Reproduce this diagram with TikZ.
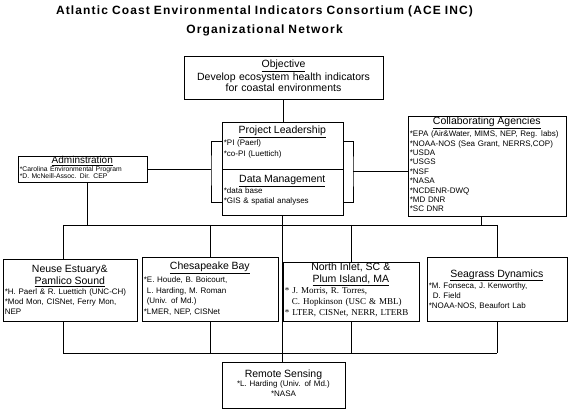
\documentclass[tikz,border=0pt]{standalone}
\usepackage{fontspec}
\setmainfont{Liberation Sans}
\newfontfamily\detserif{Liberation Serif}
\usetikzlibrary{positioning,calc}
\newcommand{\headsz}{\fontsize{10.5}{12}\selectfont}
\newcommand{\detsz}{\fontsize{8}{10.5}\selectfont}
\newcommand{\hd}[1]{\makebox[\linewidth]{\normalfont\headsz\underline{#1}}}
\newcommand{\hdplain}[1]{\makebox[\linewidth]{\normalfont\headsz #1}}

\begin{document}
\begin{tikzpicture}[x=1pt,y=-1pt,
orgbox/.style={draw,line width=.8pt,inner sep=0pt},
boxtext/.style={inner sep=0pt,anchor=base west,align=left,font=\detsz},
link/.style={line width=.8pt}]
\useasboundingbox (0,0) rectangle (569,411);
\node[inner sep=0pt,anchor=base,text width=500pt,align=center,font=\fontsize{12}{19}\selectfont\bfseries\addfontfeature{LetterSpace=9.5}] (title) at (264.5,14.5) {Atlantic Coast Environmental Indicators Consortium (ACE INC)\\Organizational Network};

\node[orgbox,minimum width=199pt,minimum height=43pt] (objective) at (283.5,77.5) {};
\node[orgbox,minimum width=121pt,minimum height=47pt] (lead) at (282.5,145.5) {};
\node[orgbox,minimum width=121pt,minimum height=46pt] (datamgmt) at (282.5,192) {};
\node[orgbox,minimum width=129pt,minimum height=26pt] (admin) at (82.5,169) {};
\node[orgbox,minimum width=158pt,minimum height=100pt] (collab) at (487,166) {};
\node[orgbox,minimum width=134pt,minimum height=62pt] (neuse) at (70,290) {};
\node[orgbox,minimum width=136pt,minimum height=64pt] (chesbay) at (210,289) {};
\node[orgbox,minimum width=136pt,minimum height=59pt] (plumisland) at (351,291.5) {};
\node[orgbox,minimum width=140pt,minimum height=64pt] (seagrass) at (497,289) {};
\node[orgbox,minimum width=123pt,minimum height=46pt] (remote) at (283.5,385) {};

\node[boxtext,anchor=base,align=center,text width=195pt,font=\fontsize{10.5}{11.5}\selectfont] (objective-txt) at ([yshift=-12pt]objective.north) {\underline{Objective}\\Develop ecosystem health indicators\\for coastal environments};
\node[boxtext,text width=117pt] (lead-txt) at ([xshift=2pt,yshift=-12pt]lead.north west) {\hd{Project Leadership}\\[1.5pt]*PI (Paerl)\\{}*co-PI (Luettich)};
\node[boxtext,text width=117pt] (datamgmt-txt) at ([xshift=2pt,yshift=-14pt]datamgmt.north west) {\hd{Data Management}\\{}*data base\\{}*GIS \& spatial analyses};
\node[boxtext,text width=125pt,font=\fontsize{6.8}{7.5}\selectfont] (admin-txt) at ([xshift=2pt,yshift=-8pt]admin.north west) {\makebox[\linewidth]{\normalfont\fontsize{10}{10}\selectfont\underline{Adminstration}}\\{}*Carolina Environmental Program\\{}*D. McNeill-Assoc. Dir. CEP};
\node[boxtext,text width=154pt,font=\fontsize{8}{9.4}\selectfont] (collab-txt) at ([xshift=2pt,yshift=-9pt]collab.north west) {\hd{Collaborating Agencies}\\[1.1pt]*EPA (Air\&Water, MIMS, NEP, Reg. labs)\\{}*NOAA-NOS (Sea Grant, NERRS,COP)\\{}*USDA\\{}*USGS\\{}*NSF\\{}*NASA\\{}*NCDENR-DWQ\\{}*MD DNR\\{}*SC DNR};
\node[boxtext,text width=130pt,font=\fontsize{8}{10}\selectfont] (neuse-txt) at ([xshift=2pt,yshift=-14pt]neuse.north west) {\hdplain{Neuse Estuary\&}\\[2pt]\hd{Pamlico Sound}\\{}*H. Paerl \& R. Luettich (UNC-CH)\\{}*Mod Mon, CISNet, Ferry Mon,\\NEP};
\node[boxtext,text width=132pt] (chesbay-txt) at ([xshift=2pt,yshift=-13pt]chesbay.north west) {\hd{Chesapeake Bay}\\[2.5pt]*E. Houde, B. Boicourt,\\\hspace*{3pt}L. Harding, M. Roman\\\hspace*{3pt}(Univ. of Md.)\\{}*LMER, NEP, CISNet};
\node[boxtext,text width=132pt,font=\detserif\fontsize{9}{11}\selectfont] (plumisland-txt) at ([xshift=2pt,yshift=-9pt]plumisland.north west) {\hdplain{North Inlet, SC \&}\\[0.5pt]\hd{Plum Island, MA}\\{}* J. Morris, R. Torres,\\\hspace*{7pt}C. Hopkinson (USC \& MBL)\\{}* LTER, CISNet, NERR, LTERB};
\node[boxtext,text width=136pt,font=\fontsize{8}{10}\selectfont] (seagrass-txt) at ([xshift=2pt,yshift=-20.5pt]seagrass.north west) {\hd{Seagrass Dynamics}\\[1.5pt]*M. Fonseca, J. Kenworthy,\\\hspace*{4pt}D. Field\\{}*NOAA-NOS, Beaufort Lab};
\node[boxtext,anchor=base,align=center,text width=119pt,font=\fontsize{8}{10}\selectfont] (remote-txt) at ([yshift=-15.5pt]remote.north) {{\headsz Remote Sensing}\\[-0.5pt]*L. Harding (Univ. of Md.)\\{}*NASA};

\coordinate (leftjoin) at (211,169);
\coordinate (rightjoin) at (353,171);
\coordinate (busleft) at (63,225);
\coordinate (busright) at (497,225);
\coordinate (lowleft) at (63,353);
\coordinate (lowright) at (497,353);

\draw[link] (objective.south) -- (objective.south |- lead.north);
\draw[link] (lead.west |- 0,141) -| (leftjoin) |- (datamgmt.west |- 0,202);
\draw[link] (lead.east |- 0,141) -| (rightjoin) |- (datamgmt.east |- 0,202);
\draw[link] (admin.east) -- (leftjoin);
\draw[link] (rightjoin) -- (rightjoin -| collab.west);
\draw[link] (datamgmt.south) -- (datamgmt.south |- remote.north);
\draw[link] (busleft) -- (busright);
\draw[link] ([xshift=5pt]admin.south) -- ([xshift=5pt]admin.south |- busleft);
\draw[link] ([xshift=-6pt]collab.south) -- ([xshift=-6pt]collab.south |- busright);
\draw[link] (busleft) -- (busleft |- neuse.north);
\draw[link] (chesbay.north |- busleft) -- (chesbay.north);
\draw[link] (plumisland.north |- busleft) -- (plumisland.north);
\draw[link] (busright) -- (seagrass.north);
\draw[link] (lowleft) -- (lowright);
\draw[link] (lowleft |- neuse.south) -- (lowleft);
\draw[link] (chesbay.south) -- (chesbay.south |- lowleft);
\draw[link] (plumisland.south) -- (plumisland.south |- lowleft);
\draw[link] (seagrass.south) -- (lowright);
\end{tikzpicture}
\end{document}
